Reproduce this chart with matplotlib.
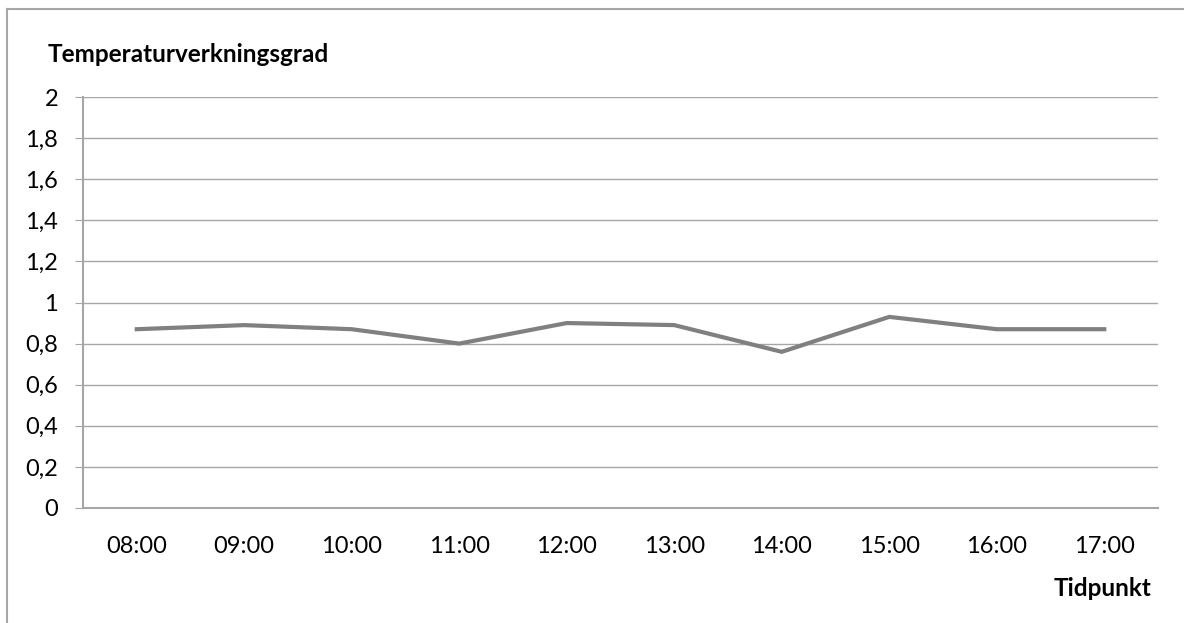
import matplotlib.pyplot as plt
from matplotlib.lines import Line2D

# Temperature efficiency per hour
tider = ['08:00', '09:00', '10:00', '11:00', '12:00', '13:00', '14:00', '15:00', '16:00', '17:00']
verkningsgrad = [0.87, 0.89, 0.87, 0.80, 0.90, 0.89, 0.76, 0.93, 0.87, 0.87]
yticks = [0, 0.2, 0.4, 0.6, 0.8, 1.0, 1.2, 1.4, 1.6, 1.8, 2.0]

plt.rcParams['font.family'] = ['Lato', 'DejaVu Sans']

fig = plt.figure(figsize=(11.84, 6.23), dpi=100)
ax = fig.add_axes([83 / 1184, 1 - 508 / 623, (1158 - 83) / 1184, (508 - 97) / 623])

x = list(range(len(tider)))
ax.plot(x, verkningsgrad, color='#808080', linewidth=3, solid_joinstyle='miter')

ax.set_xlim(-0.5, len(tider) - 0.5)
ax.set_ylim(0, 2)
ax.set_yticks(yticks)
ax.set_yticklabels([f'{v:g}'.replace('.', ',') for v in yticks])
ax.set_xticks(x)
ax.set_xticklabels(tider)

ax.grid(axis='y', color='#a6a6a6', linewidth=1)
ax.set_axisbelow(True)
for side in ['top', 'right']:
    ax.spines[side].set_visible(False)
for side in ['left', 'bottom']:
    ax.spines[side].set_color('#a6a6a6')
    ax.spines[side].set_linewidth(1.5)

ax.tick_params(axis='y', length=6, color='#a6a6a6', labelsize=17, pad=12)
ax.tick_params(axis='x', length=0, labelsize=17, pad=20)

fig.text(48 / 1184, 1 - 54 / 623, 'Temperaturverkningsgrad', fontsize=17.5,
         fontweight='bold', ha='left', va='center')
fig.text(1152 / 1184, 1 - 589 / 623, 'Tidpunkt', fontsize=17.5,
         fontweight='bold', ha='right', va='center')

# chart frame
fig.add_artist(Line2D([7 / 1184, 1], [1 - 9 / 623, 1 - 9 / 623], color='#a6a6a6', linewidth=1.5))
fig.add_artist(Line2D([7 / 1184, 7 / 1184], [0, 1 - 9 / 623], color='#a6a6a6', linewidth=1.5))

fig.savefig('out.png', dpi=100)
